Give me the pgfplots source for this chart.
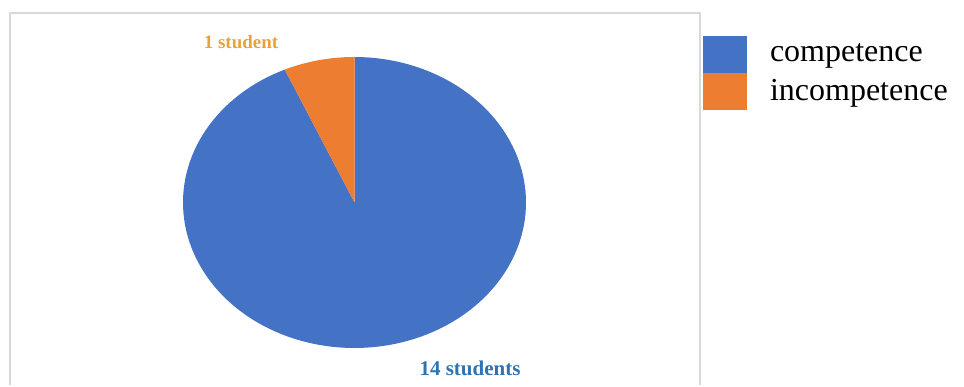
\documentclass[border=0pt]{standalone}
\usepackage{fontspec}
\setmainfont{Liberation Serif}
\usepackage{pgfplots}
\usepackage{pgfplotstable}
\pgfplotsset{compat=1.18}
\definecolor{cblue}{HTML}{4472C4}
\definecolor{corange}{HTML}{ED7D31}
\definecolor{lblue}{HTML}{2E74B5}
\definecolor{lorange}{HTML}{E8A23A}
\definecolor{frame}{HTML}{D9D9D9}
\pgfplotstableread{
label value
competence 14
incompetence 1
}\piedata
\begin{document}
\begin{tikzpicture}
\pgfplotstablegetelem{0}{value}\of\piedata \let\va\pgfplotsretval
\pgfplotstablegetelem{1}{value}\of\piedata \let\vb\pgfplotsretval
\pgfmathsetmacro\aA{360*\va/(\va+\vb)}
\begin{axis}[at={(0,0)}, anchor=south west, scale only axis,
  width=482pt, height=192.5pt, xmin=0, xmax=964, ymin=0, ymax=385,
  y dir=reverse, axis lines=none, clip=false,
  legend style={at={(axis cs:703,36)}, anchor=north west, draw=none, fill=none,
    inner sep=0pt, outer sep=0pt, font=\fontsize{16}{18.5}\selectfont,
    nodes={inner sep=0pt}, column sep=11.5pt, row sep=0pt},
  legend cell align=left,
  legend image code/.code={\fill[#1] (0pt,-9.25pt) rectangle (22pt,9.25pt);}]
\path (axis cs:0,0) rectangle (axis cs:964,385);
\addplot[fill=cblue, draw=none, domain=0:\aA, samples=150, variable=\t]
  ({354.5+171.5*sin(\t)},{202.5-145.5*cos(\t)}) -- (axis cs:354.5,202.5) -- cycle;
\addlegendentry{competence}
\addplot[fill=corange, draw=none, domain=\aA:360, samples=15, variable=\t]
  ({354.5+171.5*sin(\t)},{202.5-145.5*cos(\t)}) -- (axis cs:354.5,202.5) -- cycle;
\addlegendentry{incompetence}
\draw[frame, line width=1pt] (axis cs:9.5,385) -- (axis cs:9.5,13) -- (axis cs:700,13) -- (axis cs:700,385);
\node[anchor=base, text=lorange, font=\bfseries\fontsize{9.5}{11}\selectfont] at (axis cs:241,49) {1 student};
\node[anchor=base, text=lblue, font=\bfseries\fontsize{10.5}{12}\selectfont] at (axis cs:470,375) {14 students};
\end{axis}
\end{tikzpicture}
\end{document}
